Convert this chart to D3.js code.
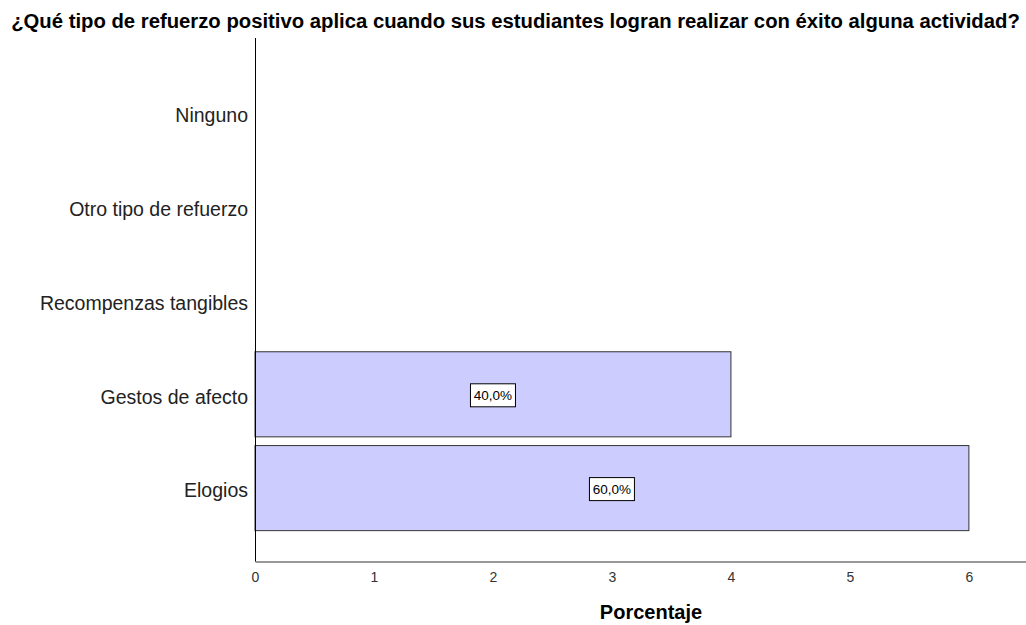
<!DOCTYPE html>
<html lang="es">
<head>
    <meta charset="UTF-8">
    <title>Refuerzo positivo</title>
    <style>
        body { margin: 0; background: #fff; }
        svg { display: block; font-family: "Liberation Sans", Arial, sans-serif; }
    </style>
</head>
<body>
<div id="chart"></div>
<script src="https://d3js.org/d3.v7.min.js"></script>
<script>
    const categories = ["Ninguno", "Otro tipo de refuerzo", "Recompenzas tangibles", "Gestos de afecto", "Elogios"];
    const values = [0, 0, 0, 4, 6];
    const valueLabels = ["", "", "", "40,0%", "60,0%"];
    const xTicks = [0, 1, 2, 3, 4, 5, 6];

    const titleText = "¿Qué tipo de refuerzo positivo aplica cuando sus estudiantes logran realizar con éxito alguna actividad?";
    const xTitle = "Porcentaje";

    const W = 1026, H = 625;
    const svg = d3.select("#chart").append("svg")
        .attr("width", W)
        .attr("height", H);

    const plotLeft = 255, plotRight = 1026, plotTop = 38, plotBottom = 561.5;

    const x = d3.scaleLinear().domain([0, 6.48]).range([plotLeft, plotRight]);
    const y = d3.scaleBand().domain(categories).range([66, 535])
        .paddingInner(0.093).paddingOuter(0.0465);

    const data = categories.map((c, i) => ({cat: c, value: values[i], label: valueLabels[i]}));

    // title
    svg.append("text")
        .attr("x", 515.5)
        .attr("y", 28)
        .attr("text-anchor", "middle")
        .style("font-size", "20.3px")
        .style("font-weight", "bold")
        .text(titleText);

    // bars
    svg.selectAll(".bar")
        .data(data.filter(d => d.value > 0))
        .enter().append("rect")
        .attr("class", "bar")
        .attr("x", x(0))
        .attr("y", d => y(d.cat))
        .attr("width", d => x(d.value) - x(0))
        .attr("height", y.bandwidth())
        .attr("fill", "#ccccff")
        .attr("stroke", "#333")
        .attr("stroke-width", 1);

    // value label boxes
    const lab = svg.selectAll(".lab")
        .data(data.filter(d => d.label))
        .enter().append("g")
        .attr("class", "lab")
        .attr("transform", d => "translate(" + ((x(0) + x(d.value)) / 2) + "," + (y(d.cat) + y.bandwidth() / 2 + 1) + ")");
    lab.append("rect")
        .attr("x", -22.5).attr("y", -11.5)
        .attr("width", 45).attr("height", 23)
        .attr("fill", "#fff")
        .attr("stroke", "#000")
        .attr("stroke-width", 1);
    lab.append("text")
        .attr("text-anchor", "middle")
        .attr("dy", "0.36em")
        .style("font-size", "13.5px")
        .text(d => d.label);

    // y axis
    const yAxis = svg.append("g")
        .attr("transform", "translate(" + plotLeft + ",0)")
        .call(d3.axisLeft(y).tickSize(0).tickPadding(7));
    yAxis.select(".domain").remove();
    yAxis.selectAll("text")
        .style("font-family", "'Liberation Sans', Arial, sans-serif")
        .style("font-size", "19.5px")
        .attr("dy", "0.48em")
        .attr("fill", "#222");
    svg.append("line")
        .attr("x1", plotLeft + 0.5).attr("x2", plotLeft + 0.5)
        .attr("y1", plotTop).attr("y2", plotBottom)
        .attr("stroke", "#000");

    // x axis
    const xAxis = svg.append("g")
        .attr("transform", "translate(0," + plotBottom + ")")
        .call(d3.axisBottom(x).tickValues(xTicks).tickSize(0).tickPadding(11).tickFormat(d3.format("d")));
    xAxis.select(".domain").attr("stroke", "#333");
    xAxis.selectAll("text")
        .style("font-family", "'Liberation Sans', Arial, sans-serif")
        .style("font-size", "14px")
        .attr("fill", "#333");

    svg.append("text")
        .attr("x", 651)
        .attr("y", 619)
        .attr("text-anchor", "middle")
        .style("font-size", "20px")
        .style("font-weight", "bold")
        .text(xTitle);
</script>
</body>
</html>
